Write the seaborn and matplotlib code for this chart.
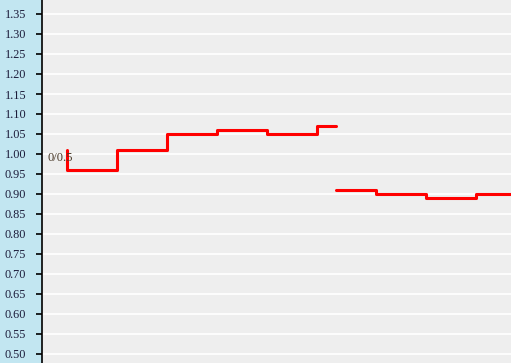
import numpy as np
import pandas as pd
import matplotlib
matplotlib.use("Agg")
import matplotlib.pyplot as plt
import seaborn as sns

# Step series (x in period units), two segments separated by a gap
x_first = [0.0, 0.0, 1.0, 2.0, 3.0, 4.0, 5.0, 5.38]
y_first = [1.01, 0.96, 1.01, 1.05, 1.06, 1.05, 1.07, 1.07]
x_second = [5.38, 6.18, 7.18, 8.18, 9.2]
y_second = [0.91, 0.90, 0.89, 0.90, 0.90]
ytick_values = [0.50, 0.55, 0.60, 0.65, 0.70, 0.75, 0.80, 0.85, 0.90, 0.95,
                1.00, 1.05, 1.10, 1.15, 1.20, 1.25, 1.30, 1.35]
annotation = "0/0.5"

sns.set_theme(style="darkgrid")
plt.rcParams['font.family'] = ['Liberation Serif', 'DejaVu Serif']

fig = plt.figure(figsize=(5.11, 3.63), dpi=100)
fig.patch.set_facecolor("#c2e6f1")
ax = fig.add_axes([42 / 511, 0, 1 - 42 / 511, 1])
ax.set_facecolor("#eeeeee")

df1 = pd.DataFrame({"x": x_first, "y": y_first})
df2 = pd.DataFrame({"x": x_second, "y": y_second})
sns.lineplot(data=df1, x="x", y="y", ax=ax, color="#ff0000", linewidth=2.2,
             drawstyle="steps-post", estimator=None, sort=False)
sns.lineplot(data=df2, x="x", y="y", ax=ax, color="#ff0000", linewidth=2.2,
             drawstyle="steps-post", estimator=None, sort=False)

ax.set_xlim(-0.5, 8.88)
ax.set_ylim(0.4775, 1.385)
ax.set_yticks(ytick_values)
ax.set_yticklabels([f"{v:.2f}" for v in ytick_values])
ax.set_xticks([])
ax.set_xlabel("")
ax.set_ylabel("")
ax.grid(axis="y", color="white", linewidth=1.2)
ax.grid(axis="x", visible=False)

for s in ["top", "right", "bottom"]:
    ax.spines[s].set_visible(False)
ax.spines["left"].set_visible(True)
ax.spines["left"].set_color("black")
ax.spines["left"].set_linewidth(1.2)

ax.tick_params(axis="y", which="major", left=True, length=4.5, width=1.2,
               color="black", pad=7, labelsize=8.8, labelcolor="#1c1c3a",
               direction="out")

ax.text(-0.38, 0.99, annotation, fontsize=9, color="#4a3a2a",
        va="center", ha="left")

fig.savefig("out.png", dpi=100, facecolor=fig.get_facecolor())
